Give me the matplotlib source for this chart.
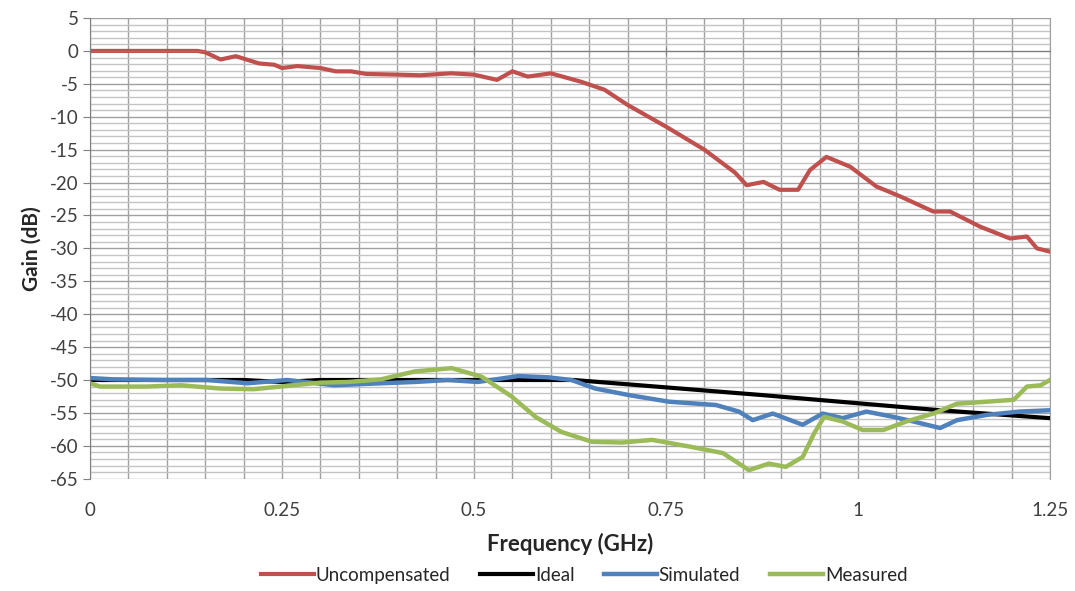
import numpy as np
import matplotlib.pyplot as plt
from matplotlib.ticker import MultipleLocator

plt.rcParams['font.family'] = ['Lato', 'DejaVu Sans']
plt.rcParams['axes.unicode_minus'] = False

# ----------
# DATA
# ----------
f_uncomp = [0, 0.05, 0.10, 0.14, 0.15, 0.17, 0.19, 0.22, 0.24, 0.25, 0.27, 0.30,
            0.32, 0.34, 0.36, 0.40, 0.43, 0.47, 0.50, 0.53, 0.55, 0.57, 0.60,
            0.64, 0.67, 0.70, 0.75, 0.80, 0.84, 0.855, 0.877, 0.898, 0.922,
            0.9375, 0.959, 0.99, 1.024, 1.055, 1.098, 1.12, 1.159, 1.198,
            1.22, 1.233, 1.25]
g_uncomp = [0, 0, 0, 0, -0.2, -1.3, -0.8, -1.9, -2.1, -2.6, -2.3, -2.6,
            -3.1, -3.1, -3.5, -3.6, -3.7, -3.4, -3.6, -4.4, -3.1, -3.9, -3.4,
            -4.7, -5.9, -8.2, -11.5, -15.0, -18.5, -20.4, -19.9, -21.1, -21.1,
            -18.1, -16.1, -17.6, -20.6, -22.1, -24.4, -24.4, -26.7, -28.5,
            -28.2, -30.0, -30.5]

f_ideal = [0, 0.20, 0.25, 0.30, 0.63, 0.876, 1.107, 1.25]
g_ideal = [-50, -50, -50.3, -50, -50, -52.3, -54.6, -55.8]

f_sim = [0, 0.03, 0.095, 0.152, 0.205, 0.257, 0.318, 0.379, 0.423, 0.466,
         0.505, 0.558, 0.597, 0.627, 0.658, 0.702, 0.754, 0.815, 0.845,
         0.863, 0.889, 0.928, 0.954, 0.98, 1.011, 1.046, 1.072, 1.107,
         1.129, 1.168, 1.21, 1.25]
g_sim = [-49.7, -49.9, -50, -50, -50.5, -50, -50.8, -50.5, -50.3, -50,
         -50.3, -49.4, -49.6, -50, -51.3, -52.3, -53.3, -53.8, -54.8,
         -56.1, -55.1, -56.8, -55.1, -55.8, -54.8, -55.6, -56.3, -57.3,
         -56.1, -55.3, -54.8, -54.6]

f_meas = [0, 0.013, 0.074, 0.118, 0.17, 0.213, 0.265, 0.30, 0.336, 0.379,
          0.423, 0.471, 0.51, 0.549, 0.58, 0.614, 0.654, 0.693, 0.732, 0.78,
          0.824, 0.845, 0.858, 0.884, 0.906, 0.928, 0.943, 0.956, 0.98,
          1.006, 1.033, 1.063, 1.098, 1.129, 1.168, 1.203, 1.22, 1.238, 1.25]
g_meas = [-50.5, -51, -51, -50.8, -51.3, -51.4, -50.8, -50.4, -50.3, -49.9,
          -48.7, -48.2, -49.5, -52.5, -55.6, -57.9, -59.4, -59.5, -59.1, -60.1,
          -61.1, -62.7, -63.7, -62.7, -63.2, -61.7, -58.1, -55.6, -56.3,
          -57.6, -57.6, -56.3, -55.1, -53.6, -53.3, -53.0, -51.0, -50.8, -50.0]

x_ticks = [0, 0.25, 0.5, 0.75, 1, 1.25]
x_labels = ['0', '0.25', '0.5', '0.75', '1', '1.25']

# ----------
# FIGURE
# ----------
fig = plt.figure(figsize=(10.75, 5.91), dpi=100)
ax = fig.add_axes([0.0837, 0.19, 0.893, 0.7795])

ax.set_xlim(0, 1.25)
ax.set_ylim(-65, 5)

# grid like the excel original
ax.xaxis.set_minor_locator(MultipleLocator(0.05))
ax.yaxis.set_minor_locator(MultipleLocator(1))
ax.yaxis.set_major_locator(MultipleLocator(5))
ax.grid(which='minor', axis='y', color='#c4c4c4', lw=1.0)
ax.grid(which='major', axis='y', color='#a0a0a0', lw=1.0)
ax.grid(which='both', axis='x', color='#a0a0a0', lw=1.0)
ax.set_axisbelow(True)

ax.plot(f_uncomp, g_uncomp, color='#C0504D', lw=3.0, label='Uncompensated')
ax.plot(f_ideal, g_ideal, color='#000000', lw=3.0, label='Ideal')
ax.plot(f_sim, g_sim, color='#4F81BD', lw=3.2, label='Simulated')
ax.plot(f_meas, g_meas, color='#9BBB59', lw=3.2, label='Measured')

# x axis sits on the 0 dB line, labels at the bottom
ax.spines['top'].set_visible(False)
ax.spines['right'].set_color('#a0a0a0')
ax.spines['bottom'].set_position(('data', 0))
ax.spines['bottom'].set_color('#7f7f7f')
ax.spines['left'].set_color('#7f7f7f')
ax.set_xticks(x_ticks)
ax.set_xticklabels([])
ax.tick_params(axis='x', which='major', direction='inout', length=6, color='#7f7f7f')
ax.tick_params(axis='x', which='minor', length=0)
ax.tick_params(axis='y', which='major', direction='out', length=5, color='#7f7f7f',
               labelsize=13.5, labelcolor='#404040', pad=3)
ax.tick_params(axis='y', which='minor', length=0)

sec = ax.secondary_xaxis('bottom')
sec.set_xticks(x_ticks)
sec.set_xticklabels(x_labels)
sec.spines['bottom'].set_visible(False)
sec.tick_params(length=0, labelsize=13.5, labelcolor='#404040', pad=17)
sec.set_xlabel('Frequency (GHz)', fontsize=16, fontweight='bold', color='#262626',
               labelpad=10)

ax.set_ylabel('Gain (dB)', fontsize=15, fontweight='bold', color='#262626', labelpad=6)

ax.legend(loc='upper center', bbox_to_anchor=(0.515, -0.155), ncol=4, frameon=False,
          fontsize=13.5, handlelength=2.8, handletextpad=0.1, columnspacing=1.6,
          labelcolor='#262626')

fig.savefig('out.png', dpi=100)
